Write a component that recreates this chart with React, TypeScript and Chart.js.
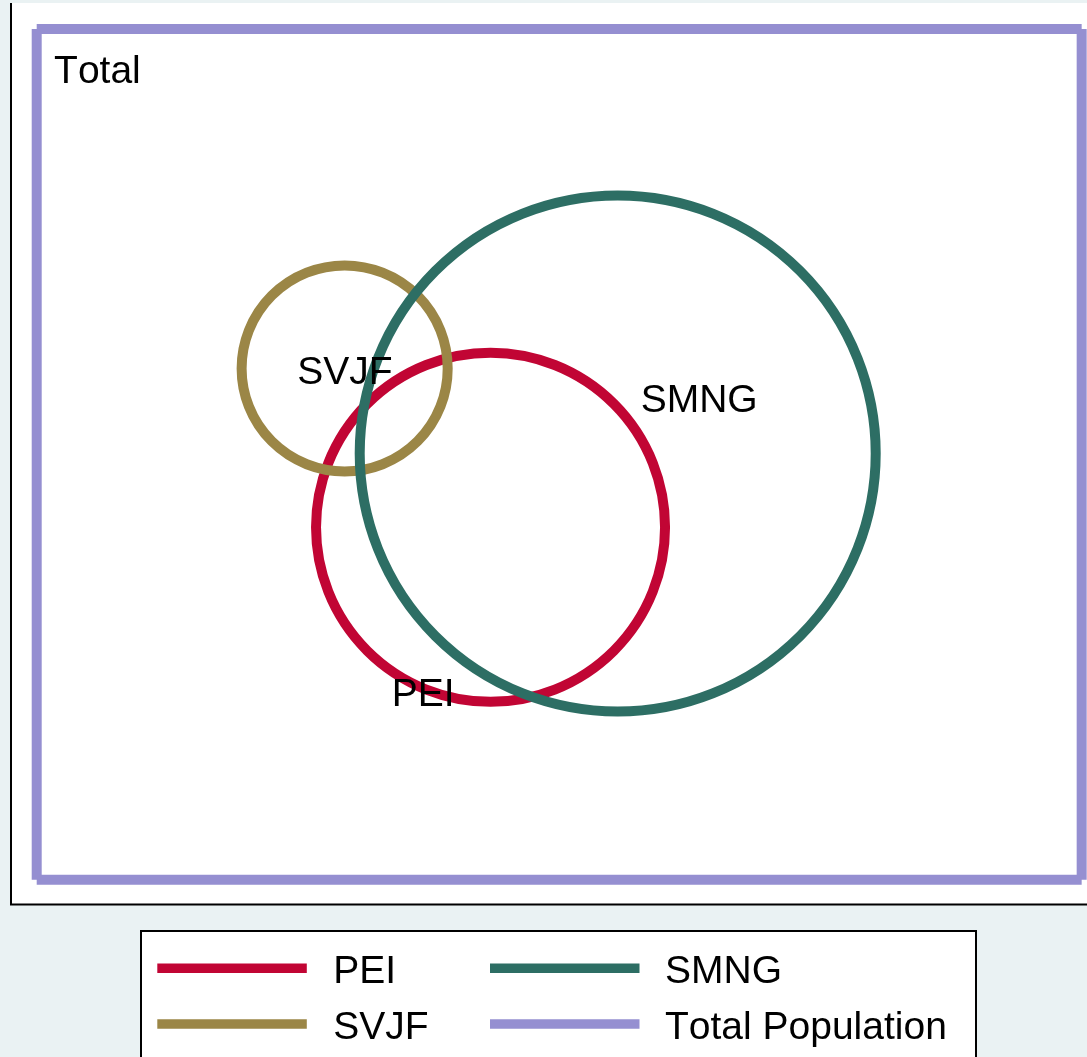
import React, { useEffect, useRef } from "react";
import { Chart, registerables } from "chart.js";
Chart.register(...registerables);

// Legend / series
const seriesLabels = ["PEI", "SMNG", "SVJF", "Total Population"];
const seriesColors = ["#C10534", "#2D6E64", "#9B8646", "#958FD1"];

// Circles (data units): drawn in this order
const circleNames = ["PEI", "SVJF", "SMNG"];
const circleCx = [43.43, 29.47, 55.6];
const circleCy = [33.72, 48.92, 40.78];
const circleR = [16.7, 9.86, 24.69];

// Total population rectangle
const totalX = [0, 100];
const totalY = [0, 81.4];

// In-plot labels (left x, baseline y)
const labelTexts = ["Total", "SVJF", "SMNG", "PEI"];
const labelX = [1.66, 24.94, 57.8, 33.97];
const labelY = [76.24, 47.43, 44.76, 16.65];

const FONT = '39px "Liberation Sans", Arial, Helvetica, sans-serif';
const BG = "#EAF2F3";

function colorOf(label: string) {
  return seriesColors[seriesLabels.indexOf(label)];
}

function setFont(ctx: any) {
  ctx.font = FONT;
  try {
    ctx.fontKerning = "none";
  } catch (e) {}
}

const vennPlugin = {
  id: "venn",
  beforeDraw(chart: any) {
    const { ctx, chartArea } = chart;
    ctx.save();
    ctx.fillStyle = BG;
    ctx.fillRect(0, 0, chart.width, chart.height);
    ctx.fillStyle = "#FFFFFF";
    ctx.fillRect(chartArea.left, chartArea.top, chartArea.right - chartArea.left, chartArea.bottom - chartArea.top);
    ctx.restore();
  },
  afterDatasetsDraw(chart: any) {
    const { ctx, chartArea } = chart;
    const xs = chart.scales.x;
    const ys = chart.scales.y;
    ctx.save();
    // circles
    for (let i = 0; i < circleNames.length; i++) {
      const px = xs.getPixelForValue(circleCx[i]);
      const py = ys.getPixelForValue(circleCy[i]);
      const pr = Math.abs(xs.getPixelForValue(circleCx[i] + circleR[i]) - px);
      ctx.beginPath();
      ctx.arc(px, py, pr, 0, Math.PI * 2);
      ctx.strokeStyle = colorOf(circleNames[i]);
      ctx.lineWidth = 10;
      ctx.stroke();
    }
    // labels
    setFont(ctx);
    ctx.fillStyle = "#000000";
    ctx.textBaseline = "alphabetic";
    ctx.textAlign = "left";
    for (let i = 0; i < labelTexts.length; i++) {
      ctx.fillText(labelTexts[i], xs.getPixelForValue(labelX[i]), ys.getPixelForValue(labelY[i]));
    }
    // plot region frame (left + bottom)
    ctx.strokeStyle = "#000000";
    ctx.lineWidth = 2;
    ctx.beginPath();
    ctx.moveTo(chartArea.left, chartArea.top);
    ctx.lineTo(chartArea.left, chartArea.bottom + 1.5);
    ctx.moveTo(chartArea.left - 1, chartArea.bottom + 0.5);
    ctx.lineTo(chartArea.right, chartArea.bottom + 0.5);
    ctx.stroke();

    // legend
    const boxL = 141, boxT = 931, boxR = 976;
    ctx.fillStyle = "#FFFFFF";
    ctx.fillRect(boxL, boxT, boxR - boxL, chart.height - boxT + 10);
    ctx.strokeStyle = "#000000";
    ctx.lineWidth = 2;
    ctx.strokeRect(boxL, boxT, boxR - boxL, chart.height - boxT + 20);
    const colLineX = [157.3, 490];
    const colTextX = [333.3, 665];
    const rowY = [968.3, 1024];
    for (let i = 0; i < seriesLabels.length; i++) {
      const c = i % 2;
      const r = Math.floor(i / 2);
      ctx.beginPath();
      ctx.moveTo(colLineX[c], rowY[r]);
      ctx.lineTo(colLineX[c] + 149.5, rowY[r]);
      ctx.strokeStyle = seriesColors[i];
      ctx.lineWidth = 9.5;
      ctx.lineCap = "butt";
      ctx.stroke();
      ctx.fillStyle = "#000000";
      setFont(ctx);
      ctx.fillText(seriesLabels[i], colTextX[c], rowY[r] + 15);
    }
    ctx.restore();
  },
};

export default function App() {
  const ref = useRef<HTMLCanvasElement | null>(null);
  useEffect(() => {
    if (!ref.current) return;
    const rectData: any[] = [
      { x: totalX[0], y: totalY[1] }, { x: totalX[1], y: totalY[1] }, { x: totalX[1], y: null },
      { x: totalX[1], y: totalY[1] }, { x: totalX[1], y: totalY[0] }, { x: totalX[1], y: null },
      { x: totalX[1], y: totalY[0] }, { x: totalX[0], y: totalY[0] }, { x: totalX[0], y: null },
      { x: totalX[0], y: totalY[0] }, { x: totalX[0], y: totalY[1] },
    ];
    const circleSets = circleNames.map((n, i) => ({
      label: n,
      data: [{ x: circleCx[i], y: circleCy[i] }],
      pointRadius: 0,
      showLine: false,
      borderColor: colorOf(n),
    }));
    const chart = new Chart(ref.current, {
      type: "scatter",
      data: {
        datasets: [
          ...circleSets,
          {
            label: "Total Population",
            data: rectData,
            showLine: true,
            spanGaps: false,
            pointRadius: 0,
            borderColor: colorOf("Total Population"),
            borderWidth: 10,
            borderCapStyle: "butt",
            fill: false,
          } as any,
        ],
      },
      options: {
        responsive: false,
        animation: false,
        events: [],
        layout: { padding: { left: 11, top: 3, right: 0, bottom: 153 } },
        scales: {
          x: { type: "linear", min: -2.46, max: 100.51, display: false },
          y: { type: "linear", min: -2.33, max: 83.89, display: false },
        },
        plugins: { legend: { display: false }, tooltip: { enabled: false } },
      },
      plugins: [vennPlugin],
    });
    return () => chart.destroy();
  }, []);
  return (
    <div style={{ position: "fixed", left: 0, top: 0, width: 1087, height: 1057, background: BG }}>
      <canvas ref={ref} width={1087} height={1057} style={{ display: "block", width: 1087, height: 1057 }} />
    </div>
  );
}
